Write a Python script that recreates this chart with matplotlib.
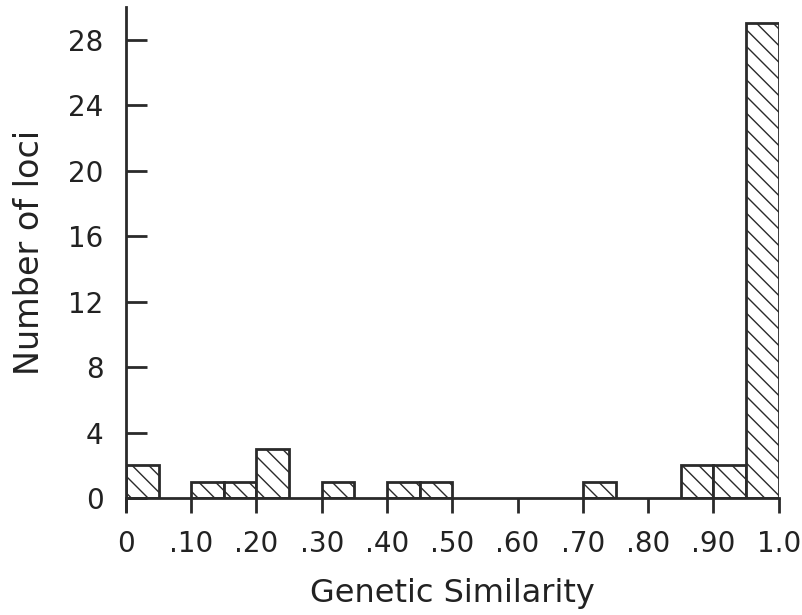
import numpy as np
import matplotlib
matplotlib.use("Agg")
import matplotlib.pyplot as plt

# histogram of genetic similarity, bins of width .05
bin_left = [0.00, 0.05, 0.10, 0.15, 0.20, 0.25, 0.30, 0.35, 0.40, 0.45,
            0.50, 0.55, 0.60, 0.65, 0.70, 0.75, 0.80, 0.85, 0.90, 0.95]
n_loci = [2, 0, 1, 1, 3, 0, 1, 0, 1, 1,
          0, 0, 0, 0, 1, 0, 0, 2, 2, 29]

x_ticks = [0, 0.1, 0.2, 0.3, 0.4, 0.5, 0.6, 0.7, 0.8, 0.9, 1.0]
x_labels = ["0", ".10", ".20", ".30", ".40", ".50", ".60", ".70", ".80", ".90", "1.0"]
y_ticks = [0, 4, 8, 12, 16, 20, 24, 28]

plt.rcParams['font.family'] = ['DejaVu Sans']
plt.rcParams['hatch.linewidth'] = 1.0
plt.rcParams['hatch.color'] = '#333333'

fig = plt.figure(figsize=(8.02, 6.15), dpi=100)
ax = fig.add_axes([0.157, 0.19, 0.814, 0.799])

# only draw the non-empty bins
left = np.array(bin_left)
h = np.array(n_loci)
keep = h > 0
ax.bar(left[keep], h[keep], width=0.05, align='edge', color='white',
       edgecolor='#2a2a2a', linewidth=2, hatch='\\\\')

ax.set_xlim(0, 1.0)
ax.set_ylim(0, 30)

ax.spines['top'].set_visible(False)
ax.spines['right'].set_visible(False)
for s in ['left', 'bottom']:
    ax.spines[s].set_linewidth(2)
    ax.spines[s].set_color('#2a2a2a')
ax.spines['left'].set_bounds(-0.8, 30)
ax.spines['bottom'].set_bounds(0, 1.0)

ax.set_xticks(x_ticks)
ax.set_xticklabels(x_labels)
ax.set_yticks(y_ticks)
ax.tick_params(axis='x', direction='out', length=11, width=2, color='#2a2a2a',
               labelsize=20, pad=12, labelcolor='#222222')
ax.tick_params(axis='y', direction='in', length=15, width=2, color='#2a2a2a',
               labelsize=20, pad=16, labelcolor='#222222')

ax.set_xlabel('Genetic Similarity', fontsize=23, labelpad=14, color='#222222')
ax.set_ylabel('Number of loci', fontsize=24, labelpad=16, color='#222222')

fig.savefig('out.png', dpi=100)
